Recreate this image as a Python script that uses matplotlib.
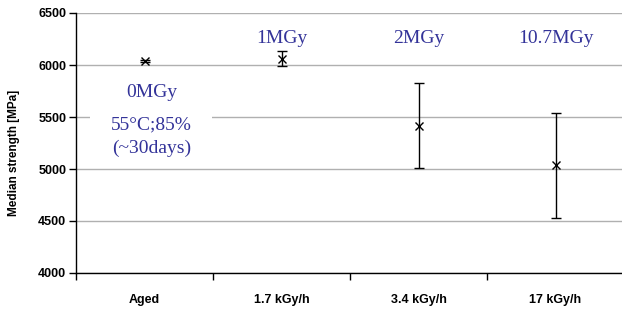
import matplotlib
matplotlib.use("Agg")
import matplotlib.pyplot as plt
from matplotlib.ticker import FixedLocator, NullFormatter

categories = ["Aged", "1.7 kGy/h", "3.4 kGy/h", "17 kGy/h"]
medians = [6040, 6060, 5415, 5035]
errors = [12, 70, 410, 508]
dose_labels = ["0MGy", "1MGy", "2MGy", "10.7MGy"]
aged_note = ["55°C;85%", "(~30days)"]
yticks = [4000, 4500, 5000, 5500, 6000, 6500]

W, H = 622, 309
fig = plt.figure(figsize=(W / 100, H / 100), dpi=100)
ax = fig.add_axes([76 / W, 36 / H, 548 / W, 260 / H])

x = list(range(len(categories)))
ax.errorbar(x, medians, yerr=errors, fmt="x", color="black", ecolor="black",
            elinewidth=1.0, capsize=3.5, capthick=1.0, markersize=6, mew=1.0, zorder=5)

ax.set_xlim(-0.5, 3.5)
ax.set_ylim(4000, 6500)
ax.set_yticks(yticks)
ax.set_yticklabels([str(v) for v in yticks], fontfamily="Liberation Sans",
                   fontweight="bold", fontsize=9)
ax.yaxis.grid(True, color="#b0b0b0", linewidth=1.0)
ax.set_axisbelow(True)

ax.xaxis.set_major_locator(FixedLocator([-0.5, 0.5, 1.5, 2.5, 3.5]))
ax.xaxis.set_major_formatter(NullFormatter())
ax.xaxis.set_minor_locator(FixedLocator(x))
ax.set_xticklabels(categories, minor=True, fontfamily="Liberation Sans",
                   fontweight="bold", fontsize=9)
ax.tick_params(axis="x", which="minor", length=0, pad=15)
ax.tick_params(axis="x", which="major", length=5, width=1, direction="out")
ax.tick_params(axis="y", length=5, width=1, direction="out", pad=2)

for s in ["top", "right"]:
    ax.spines[s].set_visible(False)
for s in ["left", "bottom"]:
    ax.spines[s].set_color("black")
    ax.spines[s].set_linewidth(1.0)

ax.set_ylabel("Median strength [MPa]", fontfamily="Liberation Sans",
              fontweight="bold", fontsize=8.5)
ax.yaxis.set_label_coords(-0.103, 0.46)

tcolor = "#333399"
tfont = dict(fontfamily="Liberation Serif", fontsize=14, color=tcolor,
             ha="center", va="center")
note_x = 0.05
ax.text(note_x, 5423, aged_note[0],
        bbox=dict(boxstyle="square,pad=1.05", facecolor="white", edgecolor="none"),
        zorder=3, **tfont)
ax.text(note_x, 5740, dose_labels[0], zorder=4, **tfont)
ax.text(note_x, 5202, aged_note[1], zorder=4, **tfont)
for i in range(1, 4):
    ax.text(i, 6258, dose_labels[i], **tfont)

fig.savefig("out.png", dpi=100)
